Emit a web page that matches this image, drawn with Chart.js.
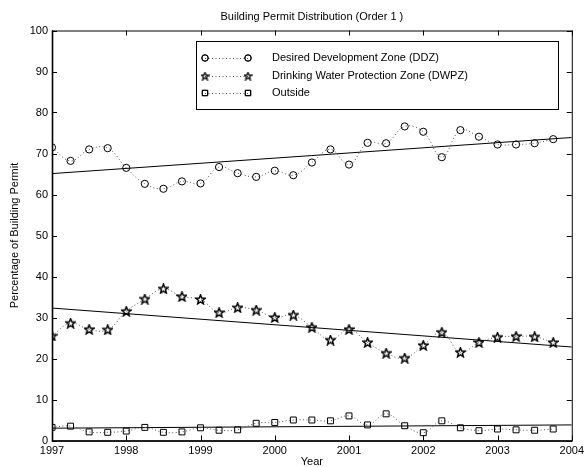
<!DOCTYPE html>
<html>
<head>
<meta charset="utf-8">
<script src="https://cdn.jsdelivr.net/npm/chart.js@4"></script>
<style>
  html, body { margin: 0; padding: 0; background: #fff; }
  #wrap { width: 588px; height: 467px; }
</style>
</head>
<body>
<div id="wrap"><canvas id="permitChart" width="588" height="467"></canvas></div>
<script>
// quarterly sample times
const quarters = [1997, 1997.25, 1997.5, 1997.75, 1998, 1998.25, 1998.5, 1998.75,
                  1999, 1999.25, 1999.5, 1999.75, 2000, 2000.25, 2000.5, 2000.75,
                  2001, 2001.25, 2001.5, 2001.75, 2002, 2002.25, 2002.5, 2002.75,
                  2003, 2003.25, 2003.5, 2003.75];

const ddz = [71.5, 68.2, 71.0, 71.3, 66.5, 62.6, 61.4, 63.2, 62.7, 66.7, 65.2, 64.3, 65.8, 64.7,
             67.8, 71.0, 67.3, 72.6, 72.5, 76.6, 75.3, 69.1, 75.7, 74.1, 72.2, 72.2, 72.5, 73.5];
const dwpz = [25.5, 28.6, 27.1, 27.0, 31.5, 34.5, 37.0, 35.1, 34.4, 31.2, 32.4, 31.8, 30.0, 30.6,
              27.6, 24.5, 27.1, 23.9, 21.3, 20.1, 23.2, 26.4, 21.5, 23.9, 25.2, 25.4, 25.3, 23.9];
const outside = [3.2, 3.5, 2.1, 2.0, 2.3, 3.2, 2.0, 2.1, 3.1, 2.5, 2.6, 4.2, 4.4, 5.0,
                 5.0, 4.8, 6.0, 3.8, 6.5, 3.6, 1.9, 4.8, 3.1, 2.4, 2.8, 2.6, 2.5, 2.8];

// first order trend lines (start 1997, end 2004)
const trendX = [1997, 2004];
const ddzTrend = [65.1, 73.9];
const dwpzTrend = [32.3, 22.8];
const outsideTrend = [3.0, 3.8];

const seriesNames = ["Desired Development Zone (DDZ)", "Drinking Water Protection Zone (DWPZ)", "Outside"];
const yearTicks = [1997, 1998, 1999, 2000, 2001, 2002, 2003, 2004];

const FONT = "'Liberation Sans', Arial, sans-serif";

function makeStar(size, outer, inner, lw) {
    const c = document.createElement("canvas");
    c.width = size; c.height = size;
    const g = c.getContext("2d");
    const m = size / 2;
    g.beginPath();
    for (let i = 0; i < 10; i++) {
        const r = i % 2 === 0 ? outer : inner;
        const a = -Math.PI / 2 + i * Math.PI / 5;
        const px = m + r * Math.cos(a), py = m + 0.3 + r * Math.sin(a);
        if (i === 0) g.moveTo(px, py); else g.lineTo(px, py);
    }
    g.closePath();
    g.strokeStyle = "#000";
    g.lineWidth = lw;
    g.stroke();
    return c;
}
const starImg = makeStar(11, 4.9, 2.1, 1.5);
const smallStar = makeStar(9, 3.9, 1.7, 1.3);

function pts(xs, ys) {
    return xs.map((x, i) => ({ x: x, y: ys[i] }));
}

function markerSeries(label, values, style, radius) {
    return {
        label: label,
        data: pts(quarters, values),
        borderColor: "#555",
        borderWidth: 1,
        borderDash: [1, 2.5],
        tension: 0.4,
        pointStyle: style,
        pointRadius: radius,
        pointBorderColor: "#000",
        pointBackgroundColor: "rgba(0,0,0,0)",
        pointBorderWidth: 1,
        fill: false
    };
}

function trendSeries(values) {
    return {
        label: "",
        data: pts(trendX, values),
        borderColor: "#000",
        borderWidth: 1,
        pointRadius: 0,
        tension: 0,
        fill: false
    };
}

// box, inward ticks and the legend, matlab style
const boxPlugin = {
    id: "matlabBox",
    afterDatasetsDraw(chart) {
        const ctx = chart.ctx;
        const a = chart.chartArea;
        const xs = chart.scales.x, ys = chart.scales.y;
        ctx.save();
        ctx.strokeStyle = "#000";
        ctx.lineWidth = 1;
        ctx.beginPath();
        xs.ticks.forEach(t => {
            const px = Math.round(xs.getPixelForValue(t.value)) + 0.5;
            ctx.moveTo(px, a.bottom); ctx.lineTo(px, a.bottom - 5);
            ctx.moveTo(px, a.top); ctx.lineTo(px, a.top + 5);
        });
        ys.ticks.forEach(t => {
            const py = Math.round(ys.getPixelForValue(t.value)) + 0.5;
            ctx.moveTo(a.left, py); ctx.lineTo(a.left + 5, py);
            ctx.moveTo(a.right, py); ctx.lineTo(a.right - 5, py);
        });
        ctx.stroke();
        ctx.strokeRect(a.left + 0.5, a.top + 0.5, a.right - a.left, a.bottom - a.top);
        ctx.lineWidth = 1.6;
        ctx.beginPath();
        ctx.moveTo(a.left + 0.5, a.top);
        ctx.lineTo(a.left + 0.5, a.bottom + 0.5);
        ctx.lineTo(a.right + 0.5, a.bottom + 0.5);
        ctx.stroke();

        // legend
        const lx = 196, ly = 41, lw = 362, lh = 68;
        ctx.fillStyle = "#fff";
        ctx.fillRect(lx, ly, lw, lh);
        ctx.lineWidth = 1;
        ctx.strokeRect(lx + 0.5, ly + 0.5, lw, lh);
        const rows = [58, 76, 93];
        ctx.font = "11px " + FONT;
        ctx.textBaseline = "middle";
        ctx.textAlign = "left";
        for (let i = 0; i < 3; i++) {
            const ds = chart.data.datasets[i];
            const y = rows[i];
            ctx.save();
            ctx.strokeStyle = "#555";
            ctx.setLineDash([1, 2.5]);
            ctx.beginPath();
            ctx.moveTo(205, y + 0.5); ctx.lineTo(248, y + 0.5);
            ctx.stroke();
            ctx.restore();
            [205, 248].forEach(px => {
                ctx.save();
                ctx.fillStyle = "rgba(0,0,0,0)";
                ctx.strokeStyle = "#000";
                ctx.lineWidth = 1;
                const isStar = ds.pointStyle === starImg;
                Chart.helpers.drawPoint(ctx, {
                    pointStyle: isStar ? smallStar : ds.pointStyle,
                    radius: ds.pointRadius - 0.4, borderWidth: 1, rotation: 0
                }, px, y);
                if (!isStar) ctx.stroke();
                ctx.restore();
            });
            ctx.fillStyle = "#000";
            ctx.fillText(seriesNames[i], 272, y);
        }
        ctx.restore();
    }
};

const ctx = document.getElementById("permitChart").getContext("2d");
new Chart(ctx, {
    type: "line",
    data: {
        datasets: [
            markerSeries(seriesNames[0], ddz, "circle", 3.6),
            markerSeries(seriesNames[1], dwpz, starImg, 4.5),
            markerSeries(seriesNames[2], outside, "rect", 4.2),
            trendSeries(ddzTrend),
            trendSeries(dwpzTrend),
            trendSeries(outsideTrend)
        ]
    },
    options: {
        responsive: false,
        animation: false,
        layout: { padding: { left: 0, right: 16, top: 0, bottom: 0 } },
        plugins: {
            legend: { display: false },
            tooltip: { enabled: false },
            title: {
                display: true,
                fullSize: false,
                text: "Building Permit Distribution (Order 1 )",
                color: "#000",
                font: { family: FONT, size: 11, weight: "normal" },
                padding: { top: 10, bottom: 7.3 }
            }
        },
        scales: {
            x: {
                type: "linear",
                min: 1997,
                max: 2004,
                afterBuildTicks(scale) {
                    scale.ticks = yearTicks.map(v => ({ value: v }));
                },
                afterFit(scale) { scale.height = 26.5; },
                grid: { display: false, drawTicks: false },
                border: { display: false },
                ticks: {
                    color: "#000",
                    padding: 4,
                    maxRotation: 0,
                    font: { family: FONT, size: 11 },
                    callback: v => String(v)
                },
                title: {
                    display: true,
                    text: "Year",
                    color: "#000",
                    font: { family: FONT, size: 11, lineHeight: 1 },
                    padding: { top: 0, bottom: 0 }
                }
            },
            y: {
                min: 0,
                max: 100,
                afterFit(scale) { scale.width = 52; },
                grid: { display: false, drawTicks: false },
                border: { display: false },
                ticks: {
                    stepSize: 10,
                    color: "#000",
                    padding: 4,
                    font: { family: FONT, size: 11 }
                },
                title: {
                    display: true,
                    text: "Percentage of Building Permit",
                    color: "#000",
                    font: { family: FONT, size: 11 },
                    padding: { top: 8, bottom: 0 }
                }
            }
        }
    },
    plugins: [boxPlugin]
});
</script>
</body>
</html>
